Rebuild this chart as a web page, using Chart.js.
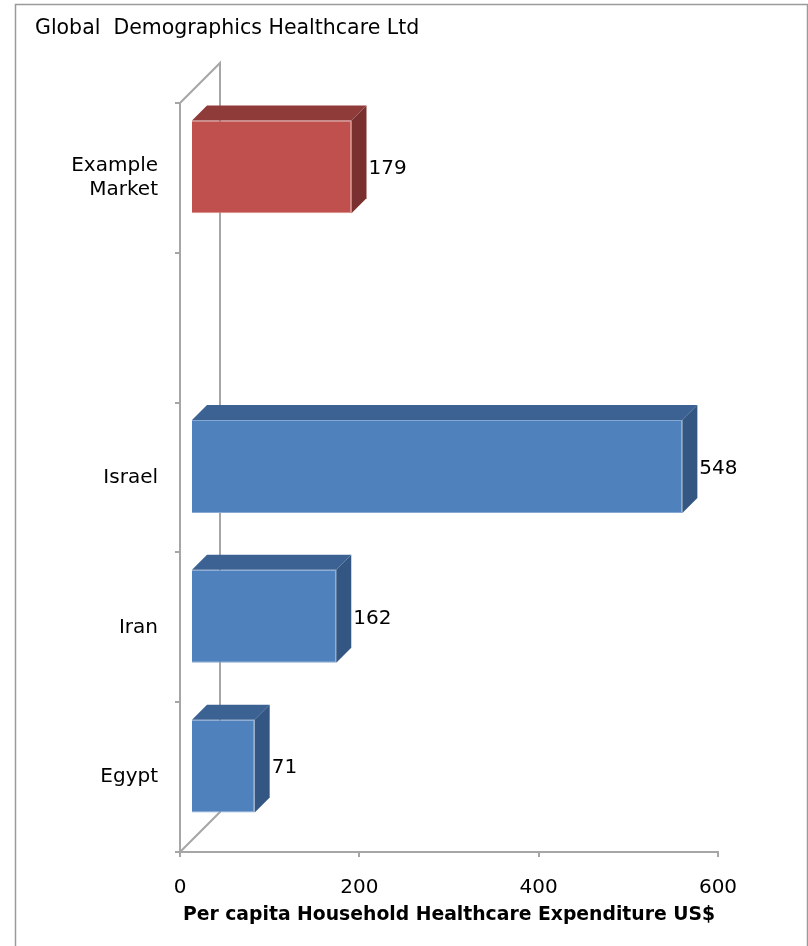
<!DOCTYPE html>
<html>
<head>
<meta charset="utf-8">
<script src="https://cdn.jsdelivr.net/npm/chart.js@4/dist/chart.umd.min.js"></script>
<style>
  html, body { margin: 0; padding: 0; background: #fff; }
  canvas { display: block; }
</style>
</head>
<body>
<canvas id="chart" width="808" height="946"></canvas>
<script>
// ---- data ----
const chartTitle = 'Global  Demographics Healthcare Ltd';
const axisTitle = 'Per capita Household Healthcare Expenditure US$';
const categories = [['Example', 'Market'], '', 'Israel', 'Iran', 'Egypt'];
const expenditure = [179, null, 548, 162, 71];
const xTicks = [0, 200, 400, 600];
const highlighted = 'Example';

// ---- look ----
const FONT = '"DejaVu Sans", sans-serif';
const WALL_DEPTH = 40;  // depth of the 3-D plot box
const BAR_INSET = 11;   // how far into the box the bar fronts sit
const BAR_DEPTH = 15;   // thickness of each bar block
const AXIS_GREY = '#A6A6A6';

const palette = {
  blue: { front: '#4F81BD', top: '#3C6294', side: '#335682', edge: '#86A8D3' },
  red:  { front: '#C0504D', top: '#8F3B39', side: '#7A302E', edge: '#D98C8A' }
};
const nameOf = i => Array.isArray(categories[i]) ? categories[i][0] : categories[i];
const colourOf = i => nameOf(i) === highlighted ? palette.red : palette.blue;

// Frame, title, back wall of the 3-D box, plus the top/side faces and value labels of each bar.
const box3d = {
  id: 'box3d',
  beforeDraw(chart) {
    const { ctx } = chart;
    ctx.save();
    ctx.fillStyle = '#fff';
    ctx.fillRect(0, 0, chart.width, chart.height);
    ctx.strokeStyle = '#9a9a9a';
    ctx.lineWidth = 1.5;
    ctx.strokeRect(15.5, 4.5, chart.width - 16, chart.height + 10);
    ctx.fillStyle = '#000';
    ctx.font = `20.5px ${FONT}`;
    ctx.textAlign = 'left';
    ctx.textBaseline = 'middle';
    ctx.fillText(chartTitle, 35, 29);
    ctx.restore();
  },
  beforeDatasetsDraw(chart) {
    const { ctx, chartArea: a } = chart;
    ctx.save();
    ctx.strokeStyle = AXIS_GREY;
    ctx.lineWidth = 2;
    ctx.beginPath();
    ctx.moveTo(a.left, a.top);
    ctx.lineTo(a.left + WALL_DEPTH, a.top - WALL_DEPTH);
    ctx.lineTo(a.left + WALL_DEPTH, a.bottom - WALL_DEPTH);
    ctx.lineTo(a.left, a.bottom);
    ctx.stroke();
    ctx.restore();
    // bar fronts are pushed into the box
    ctx.save();
    ctx.translate(BAR_INSET, -BAR_INSET);
  },
  afterDatasetsDraw(chart) {
    const { ctx } = chart;
    ctx.restore();
    const meta = chart.getDatasetMeta(0);
    meta.data.forEach((bar, i) => {
      const v = expenditure[i];
      if (v == null) return;
      const { x, y, base, height } = bar.getProps(['x', 'y', 'base', 'height'], true);
      const x0 = base + BAR_INSET, x1 = x + BAR_INSET;
      const y0 = y - height / 2 - BAR_INSET, y1 = y + height / 2 - BAR_INSET;
      const c = colourOf(i);
      ctx.save();
      // top face
      ctx.fillStyle = c.top;
      ctx.beginPath();
      ctx.moveTo(x0, y0);
      ctx.lineTo(x0 + BAR_DEPTH, y0 - BAR_DEPTH);
      ctx.lineTo(x1 + BAR_DEPTH, y0 - BAR_DEPTH);
      ctx.lineTo(x1, y0);
      ctx.closePath();
      ctx.fill();
      // side face
      ctx.fillStyle = c.side;
      ctx.beginPath();
      ctx.moveTo(x1, y0);
      ctx.lineTo(x1 + BAR_DEPTH, y0 - BAR_DEPTH);
      ctx.lineTo(x1 + BAR_DEPTH, y1 - BAR_DEPTH);
      ctx.lineTo(x1, y1);
      ctx.closePath();
      ctx.fill();
      // value label
      ctx.fillStyle = '#000';
      ctx.font = `20px ${FONT}`;
      ctx.textAlign = 'left';
      ctx.textBaseline = 'middle';
      ctx.fillText(String(v), x1 + BAR_DEPTH + 2, (y0 + y1) / 2 + 2);
      ctx.restore();
    });
  }
};

new Chart(document.getElementById('chart'), {
  type: 'bar',
  data: {
    labels: categories,
    datasets: [{
      data: expenditure,
      backgroundColor: expenditure.map((_, i) => colourOf(i).front),
      borderColor: expenditure.map((_, i) => colourOf(i).edge),
      borderWidth: 1,
      barPercentage: 0.62,
      categoryPercentage: 1
    }]
  },
  options: {
    indexAxis: 'y',
    responsive: false,
    animation: false,
    events: [],
    layout: { padding: { top: 103, right: 90, left: 0, bottom: 0 } },
    plugins: { legend: { display: false }, tooltip: { enabled: false } },
    scales: {
      x: {
        min: 0,
        max: 600,
        afterBuildTicks(scale) { scale.ticks = xTicks.map(v => ({ value: v })); },
        afterFit(scale) { scale.height = 94; },
        border: { display: true, color: AXIS_GREY, width: 2 },
        grid: { drawOnChartArea: false, tickLength: 5, color: AXIS_GREY, lineWidth: 2 },
        ticks: { font: { family: FONT, size: 20 }, color: '#000', padding: 19, maxRotation: 0 },
        title: {
          display: true,
          text: axisTitle,
          font: { family: FONT, size: 18.8, weight: 'bold' },
          color: '#000',
          padding: { top: 0, bottom: 20 }
        }
      },
      y: {
        afterFit(scale) { scale.width = 180; },
        border: { display: true, color: AXIS_GREY, width: 2 },
        grid: { offset: true, drawOnChartArea: false, tickLength: 5, color: AXIS_GREY, lineWidth: 2 },
        ticks: { font: { family: FONT, size: 20 }, color: '#000', padding: 17 }
      }
    }
  },
  plugins: [box3d]
});
</script>
</body>
</html>
